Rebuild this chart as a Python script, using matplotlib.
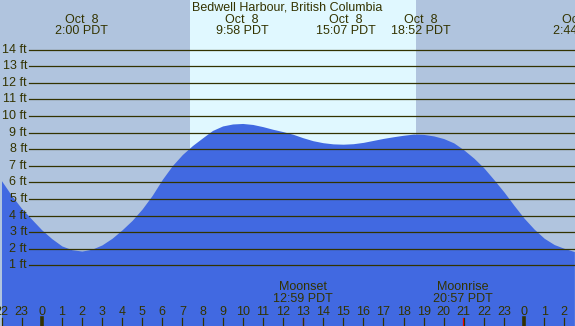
import numpy as np
import matplotlib
matplotlib.use("Agg")
import matplotlib.pyplot as plt

# tide height (ft) every half hour, from 22:00 Oct 7
tide_hours = np.arange(-2.0, 27.0, 0.5)
tide_ft = [6.10, 5.21, 4.43, 3.78, 3.14, 2.61, 2.17, 1.94, 1.86, 1.97,
           2.23, 2.63, 3.14, 3.71, 4.40, 5.22, 6.18, 7.01, 7.68, 8.22,
           8.68, 9.13, 9.40, 9.52, 9.55, 9.49, 9.36, 9.20, 9.06, 8.90,
           8.69, 8.51, 8.39, 8.32, 8.30, 8.33, 8.41, 8.53, 8.65, 8.75,
           8.84, 8.91, 8.89, 8.80, 8.64, 8.38, 7.96, 7.46, 6.87, 6.16,
           5.42, 4.61, 3.84, 3.18, 2.63, 2.25, 2.02, 1.83]

# high / low events shown across the top
event_hours = [2.0, 9 + 58/60, 15 + 7/60, 18 + 52/60, 24 + 2 + 44/60]
event_labels = ["Oct  8\n2:00 PDT", "Oct  8\n9:58 PDT", "Oct  8\n15:07 PDT",
                "Oct  8\n18:52 PDT", "Oct  9\n2:44 PDT"]

sunrise = 7.38
sunset = 18.62

moon_hours = [12 + 59/60, 20 + 57/60]
moon_labels = ["Moonset\n12:59 PDT", "Moonrise\n20:57 PDT"]

grid_ft = list(range(1, 15))
hour_ticks = list(range(-2, 27))

title = "Bedwell Harbour, British Columbia"

night = "#B0C4DE"
day = "#E0F8FF"
water = "#4169E1"
ink = "#333300"
fs = 9

plt.rcParams['font.family'] = ['Liberation Sans', 'DejaVu Sans']


def px2ft(py):
    return (281.9 - py) / 16.59


def px2h(px):
    return (px - 41.7) / 20.1


fig = plt.figure(figsize=(5.75, 3.26), dpi=100)
ax = fig.add_axes([0, 0, 1, 1])
ax.set_xlim(px2h(0), px2h(575))
ax.set_ylim(px2ft(326), px2ft(0))
ax.axis("off")

ax.axvspan(px2h(0), sunrise, color=night, lw=0)
ax.axvspan(sunrise, sunset, color=day, lw=0)
ax.axvspan(sunset, px2h(575), color=night, lw=0)

ax.fill_between(tide_hours, tide_ft, px2ft(330), color=water, lw=0)

for f in grid_ft:
    ax.plot([px2h(29), px2h(580)], [f, f], color=ink, lw=0.9)
    ax.text(px2h(27), f, f"{f} ft", ha="right", va="center",
            fontsize=fs, color=ink)

ax.text(px2h(287), px2ft(7), title, ha="center", va="center",
        fontsize=fs, color=ink)

for h, lab in zip(event_hours, event_labels):
    ax.text(h, px2ft(25.5), lab, ha="center", va="center", fontsize=fs,
            color=ink, linespacing=0.92)

for h, lab in zip(moon_hours, moon_labels):
    ax.text(h, px2ft(293), lab, ha="center", va="center", fontsize=fs,
            color=ink, linespacing=0.92)
    ax.plot([h, h], [px2ft(318), px2ft(327)], color="red", lw=0.9)

for h in hour_ticks:
    ax.text(h, px2ft(312), str(h % 24), ha="center", va="center",
            fontsize=fs, color=ink)
    lw = 2.6 if h % 24 == 0 else 0.9
    ax.plot([h, h], [px2ft(318), px2ft(327)], color=ink, lw=lw)

fig.savefig("out.png", dpi=100)
